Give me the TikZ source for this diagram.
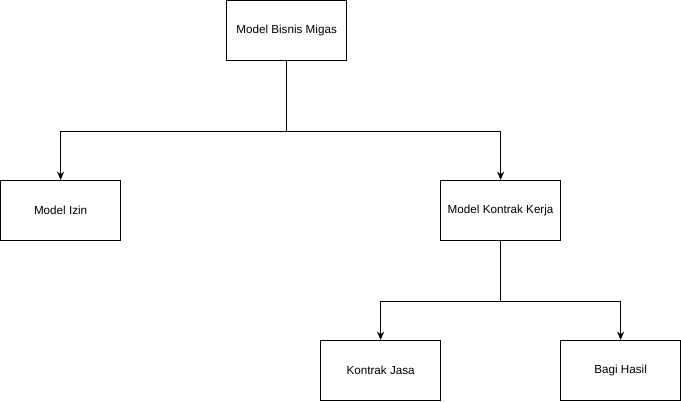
\documentclass[tikz,border=0pt]{standalone}
\usepackage{fontspec}
\setmainfont{Liberation Sans}
\usetikzlibrary{arrows.meta}

\begin{document}
\begin{tikzpicture}[
    x=0.025cm, y=-0.025cm,
    box/.style={rectangle, draw, line width=0.7pt, minimum width=3cm, minimum height=1.5cm, inner sep=0pt, font=\fontsize{8.3}{10}\selectfont},
    link/.style={draw, line width=0.7pt, -{Stealth[length=6pt, width=5pt]}}
]
\useasboundingbox (-0.6,-0.5) rectangle (680.4,400.5);

\node[box] (migas) at (286, 30) {Model Bisnis Migas};
\node[box] (izin) at (60, 210) {Model Izin};
\node[box] (kerja) at (500, 210) {Model Kontrak Kerja};
\node[box] (jasa) at (380, 370) {Kontrak Jasa};
\node[box] (bagi) at (620, 370) {Bagi Hasil};

% Connections

\path[link] (migas.south) -- ++(0,70) -| (izin.north);
\path[link] (migas.south) -- ++(0,70) -| (kerja.north);

\path[link] (kerja.south) -- ++(0,60) -| (jasa.north);
\path[link] (kerja.south) -- ++(0,60) -| (bagi.north);

\end{tikzpicture}
\end{document}
